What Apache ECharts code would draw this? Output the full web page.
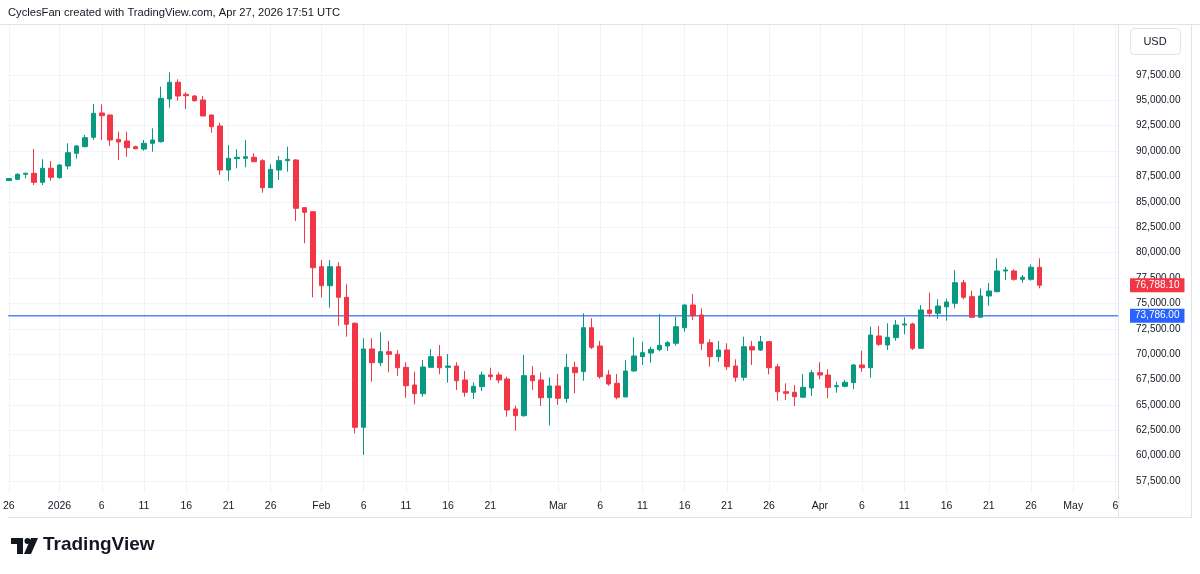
<!DOCTYPE html>
<html lang="en">
<head>
  <meta charset="UTF-8">
  <title>BTCUSD daily</title>
  <script src="https://cdn.jsdelivr.net/npm/echarts@6/dist/echarts.min.js"></script>
  <style>
    * { margin: 0; padding: 0; }
    body { background: #fff; }
    #chart { width: 1200px; height: 574px; }
  </style>
</head>
<body>
<div id="chart"></div>
<script>
  // daily candles, 26 Dec 2025 .. 27 Apr 2026
  var dates = [
    '2025-12-26','2025-12-27','2025-12-28','2025-12-29','2025-12-30','2025-12-31',
    '2026-01-01','2026-01-02','2026-01-03','2026-01-04','2026-01-05','2026-01-06','2026-01-07','2026-01-08','2026-01-09','2026-01-10',
    '2026-01-11','2026-01-12','2026-01-13','2026-01-14','2026-01-15','2026-01-16','2026-01-17','2026-01-18','2026-01-19','2026-01-20',
    '2026-01-21','2026-01-22','2026-01-23','2026-01-24','2026-01-25','2026-01-26','2026-01-27','2026-01-28','2026-01-29','2026-01-30','2026-01-31',
    '2026-02-01','2026-02-02','2026-02-03','2026-02-04','2026-02-05','2026-02-06','2026-02-07','2026-02-08','2026-02-09','2026-02-10',
    '2026-02-11','2026-02-12','2026-02-13','2026-02-14','2026-02-15','2026-02-16','2026-02-17','2026-02-18','2026-02-19','2026-02-20',
    '2026-02-21','2026-02-22','2026-02-23','2026-02-24','2026-02-25','2026-02-26','2026-02-27','2026-02-28',
    '2026-03-01','2026-03-02','2026-03-03','2026-03-04','2026-03-05','2026-03-06','2026-03-07','2026-03-08','2026-03-09','2026-03-10',
    '2026-03-11','2026-03-12','2026-03-13','2026-03-14','2026-03-15','2026-03-16','2026-03-17','2026-03-18','2026-03-19','2026-03-20',
    '2026-03-21','2026-03-22','2026-03-23','2026-03-24','2026-03-25','2026-03-26','2026-03-27','2026-03-28','2026-03-29','2026-03-30','2026-03-31',
    '2026-04-01','2026-04-02','2026-04-03','2026-04-04','2026-04-05','2026-04-06','2026-04-07','2026-04-08','2026-04-09','2026-04-10',
    '2026-04-11','2026-04-12','2026-04-13','2026-04-14','2026-04-15','2026-04-16','2026-04-17','2026-04-18','2026-04-19','2026-04-20',
    '2026-04-21','2026-04-22','2026-04-23','2026-04-24','2026-04-25','2026-04-26','2026-04-27'
  ];

  var opens = [
    87100, 87224, 87717, 87815, 86930, 88308,
    87390, 88535, 89786, 90440, 91360, 93760, 93559, 91165, 91000, 90440, 90210, 90771, 90930, 95136, 96780, 95600,
    95431, 95037, 93559, 92476, 88141, 89260, 89290, 89390, 89060, 86400, 88141, 89060, 89126, 84430, 84033,
    78614, 76742, 78614, 75600, 73038, 62792, 70506, 69156, 70240, 69990, 68700, 66960, 66100, 68700, 69750, 68700,
    68830, 67450, 66240, 66800, 67950, 67950, 67550, 64600, 63935, 67880, 67450, 65706,
    66860, 65630, 68700, 68270, 72604, 70800, 67950, 67130, 65780, 68340, 69750, 70110, 70440, 70800, 71070, 72600,
    74840, 73855, 71130, 69750, 70407, 68830, 67717, 70736, 70407, 71230, 68760, 66300, 66240, 65750, 66670,
    68170, 67940, 66790, 66830, 67190, 68930, 68660, 71787, 70900, 71620, 72870, 72970, 70570, 74350, 74020, 74660,
    75010, 77040, 75660, 73630, 75730, 76150, 78190, 78190, 77370, 77370, 78550
  ];
  var closes = [
    87300, 87717, 87820, 86929, 88308, 87421,
    88633, 89845, 90505, 91323, 93727, 93490, 91096, 90900, 90340, 90240, 90771, 91096, 95204, 96781, 95431, 95460,
    94968, 93461, 92407, 88141, 89293, 89390, 89450, 88960, 86397, 88210, 89060, 89195, 84367, 83970, 78515,
    76742, 78614, 75599, 72939, 62791, 70506, 69156, 70240, 69985, 68663, 66890, 66102, 68732, 69747, 68660, 68830,
    67383, 66240, 66830, 67944, 67780, 67450, 64496, 63935, 67880, 67380, 65706, 66860,
    65650, 68703, 68170, 72604, 70673, 67777, 67057, 65750, 68338, 69816, 70141, 70470, 70870, 71130, 72703, 74840,
    73790, 71067, 69750, 70407, 68762, 67717, 70732, 70407, 71225, 68660, 66299, 66140, 65806, 66732, 68171,
    67940, 66730, 66890, 67224, 68929, 68660, 71885, 70968, 71658, 72870, 72970, 70575, 74348, 74020, 74742, 75140,
    77038, 75600, 73629, 75727, 76220, 78190, 78290, 77372, 77570, 78555, 76788.10
  ];
  var lows = [
    87050, 87156, 87320, 86663, 86663, 87086,
    87283, 88210, 89254, 90377, 91096, 91096, 90505, 89126, 89450, 90180, 90042, 89943, 90830, 94278, 94968, 94150,
    94870, 93461, 91815, 87648, 87086, 88308, 88407, 88960, 85904, 86400, 87156, 87973, 83116, 80919, 75600,
    75600, 74575, 72801, 71718, 62200, 60064, 67284, 68828, 68210, 67845, 65707, 65057, 65806, 68700, 68012, 67185,
    66466, 65806, 65580, 66367, 67450, 67126, 63836, 62456, 63836, 66466, 64890, 62982,
    65000, 65215, 66141, 67383, 70506, 67580, 66890, 65550, 65780, 68270, 68930, 69156, 70280, 70310, 70830, 72210,
    73362, 70407, 68762, 69255, 68440, 67284, 67383, 68930, 70310, 68012, 65412, 65480, 64890, 65750, 65876,
    67520, 65650, 66200, 66730, 66534, 68270, 67678, 70800, 70407, 71323, 71940, 70407, 70570, 73690, 73460, 73290,
    74515, 75403, 73629, 73630, 74770, 76092, 77303, 77235, 77038, 77235, 76486
  ];
  var highs = [
    87350, 87815, 87880, 90210, 89195, 89027,
    88700, 90771, 90604, 91589, 94643, 94613, 93600, 91914, 91914, 90540, 91096, 92249, 96348, 97766, 97076, 95796,
    95530, 95431, 93600, 92800, 90604, 90180, 91096, 89786, 89195, 88700, 89520, 90442, 89200, 84430, 84033,
    79274, 79274, 79045, 76880, 73136, 71560, 71560, 72150, 71297, 70407, 69195, 68270, 69422, 70506, 70900, 70013,
    69200, 68340, 67224, 68270, 68660, 68200, 67780, 64920, 69915, 68830, 68200, 67717,
    68043, 70013, 69255, 74023, 73530, 71297, 68440, 68043, 69422, 71658, 71228, 70735, 73953, 71300, 73690, 74900,
    75925, 74515, 71461, 71297, 71067, 69491, 71718, 71297, 71787, 71297, 69028, 67126, 66958, 68043, 68440,
    69195, 68506, 67284, 67450, 69028, 70341, 72703, 72770, 73037, 73362, 73628, 73096, 74840, 76055, 75403, 75461,
    78289, 77303, 76250, 76486, 77000, 79440, 78614, 78358, 77796, 78850, 79440
  ];

  // drawn horizontal level
  var levelLine = 73786.00;

  // price scale labels
  var priceTicks = [57500, 60000, 62500, 65000, 67500, 70000, 72500, 75000, 77500, 80000,
                    82500, 85000, 87500, 90000, 92500, 95000, 97500];

  // time scale labels
  var timeTickDates = ['2025-12-26','2026-01-01','2026-01-06','2026-01-11','2026-01-16','2026-01-21','2026-01-26',
                       '2026-02-01','2026-02-06','2026-02-11','2026-02-16','2026-02-21',
                       '2026-03-01','2026-03-06','2026-03-11','2026-03-16','2026-03-21','2026-03-26',
                       '2026-04-01','2026-04-06','2026-04-11','2026-04-16','2026-04-21','2026-04-26',
                       '2026-05-01','2026-05-06'];
  var timeTickTexts = ['26','2026','6','11','16','21','26','Feb','6','11','16','21',
                       'Mar','6','11','16','21','26','Apr','6','11','16','21','26','May','6'];

  // visible window of the pane
  var dayMin = -6.07, dayMax = 125.3;
  var priceMin = 56318, priceMax = 102426;

  var upColor = '#089981';
  var downColor = '#f23645';
  var levelColor = '#2962ff';
  var textColor = '#131722';
  var gridColor = '#f0f3fa';
  var borderColor = '#e0e3eb';

  // day number counted from 1 Jan 2026
  function dayNum(s) {
    var p = s.split('-');
    return (Date.UTC(+p[0], +p[1] - 1, +p[2]) - Date.UTC(2026, 0, 1)) / 86400000;
  }

  function fmtPrice(v) {
    return Number(v).toLocaleString('en-US', { minimumFractionDigits: 2, maximumFractionDigits: 2 });
  }

  var tickDays = timeTickDates.map(dayNum);
  var tickText = {};
  tickDays.forEach(function (d, i) { tickText[d] = timeTickTexts[i]; });

  var candles = dates.map(function (d, i) {
    return [dayNum(d), opens[i], closes[i], lows[i], highs[i]];
  });
  var lastClose = closes[closes.length - 1];

  var myChart = echarts.init(document.getElementById('chart'));

  var font = 'Liberation Sans, Arial, sans-serif';

  // price tag on the scale
  function tag(bg) {
    return {
      show: true, position: 'end', distance: 12,
      formatter: function (p) { return fmtPrice(p.value); },
      color: '#fff', backgroundColor: bg,
      fontSize: 10, fontFamily: font, padding: [2, 5, 2, 5]
    };
  }

  var option = {
    animation: false,
    backgroundColor: '#ffffff',
    grid: {
      left: 8,
      right: 82,
      top: 25,
      bottom: 81,
      show: false
    },
    xAxis: {
      type: 'value',
      min: dayMin,
      max: dayMax,
      axisLine: { show: false },
      axisTick: { show: false, customValues: tickDays },
      axisLabel: {
        customValues: tickDays,
        margin: 8,
        color: textColor,
        fontSize: 10.5,
        fontFamily: font,
        showMinLabel: true,
        showMaxLabel: true,
        formatter: function (v) { return tickText[Math.round(v)] || ''; }
      },
      splitLine: { show: true, lineStyle: { color: gridColor, width: 1 } }
    },
    yAxis: {
      type: 'value',
      position: 'right',
      min: priceMin,
      max: priceMax,
      axisLine: { show: false },
      axisTick: { show: false, customValues: priceTicks },
      axisLabel: {
        customValues: priceTicks,
        margin: 18,
        color: textColor,
        fontSize: 10,
        fontFamily: font,
        formatter: fmtPrice
      },
      splitLine: { show: true, lineStyle: { color: gridColor, width: 1 } }
    },
    series: [
      {
        // horizontal level drawn across the pane
        type: 'line',
        data: [[dayMin, levelLine], [dayMax, levelLine]],
        showSymbol: false,
        silent: true,
        z: 1,
        lineStyle: { color: '#5b84f8', width: 1.5 },
        itemStyle: { color: levelColor }
      },
      {
        type: 'candlestick',
        data: candles,
        barWidth: 5,
        clip: true,
        z: 2,
        itemStyle: {
          color: upColor,
          color0: downColor,
          borderColor: upColor,
          borderColor0: downColor,
          borderWidth: 1
        },
        // tags on the price scale, lines hidden
        markLine: {
          silent: true,
          symbol: ['none', 'none'],
          lineStyle: { color: 'rgba(0,0,0,0)', width: 1, type: 'solid' },
          data: [
            { yAxis: lastClose, label: tag(downColor) },
            { yAxis: levelLine, label: tag(levelColor) }
          ]
        }
      }
    ],
    graphic: [
      {
        type: 'text', left: 8, top: 7,
        style: { text: 'CyclesFan created with TradingView.com, Apr 27, 2026 17:51 UTC',
                 fill: textColor, font: '11.2px ' + font }
      },
      { type: 'line', shape: { x1: 0, y1: 24.5, x2: 1200, y2: 24.5 }, style: { stroke: borderColor } },
      { type: 'line', shape: { x1: 1118.5, y1: 25, x2: 1118.5, y2: 517 }, style: { stroke: borderColor } },
      { type: 'line', shape: { x1: 8, y1: 517.5, x2: 1192, y2: 517.5 }, style: { stroke: borderColor } },
      { type: 'line', shape: { x1: 1191.5, y1: 25, x2: 1191.5, y2: 517 }, style: { stroke: borderColor } },
      {
        type: 'rect', shape: { x: 1130.5, y: 28.5, width: 50, height: 26, r: 4 },
        style: { fill: '#fff', stroke: borderColor }
      },
      {
        type: 'text', x: 1155, y: 42,
        style: { text: 'USD', fill: textColor, font: '11px ' + font, align: 'center', verticalAlign: 'middle' }
      },
      // TradingView logo
      {
        type: 'group', x: 11, y: 538,
        children: [
          { type: 'rect', shape: { x: 0, y: 0, width: 12, height: 6 }, style: { fill: '#131722' } },
          { type: 'rect', shape: { x: 6, y: 0, width: 6, height: 16 }, style: { fill: '#131722' } },
          { type: 'circle', shape: { cx: 16.5, cy: 3, r: 3 }, style: { fill: '#131722' } },
          { type: 'polygon', shape: { points: [[20, 0], [27, 0], [20, 16], [13, 16]] }, style: { fill: '#131722' } }
        ]
      },
      {
        type: 'text', left: 43, top: 535,
        style: { text: 'TradingView', fill: '#131722', font: 'bold 19px ' + font }
      }
    ]
  };

  myChart.setOption(option);
</script>
</body>
</html>
